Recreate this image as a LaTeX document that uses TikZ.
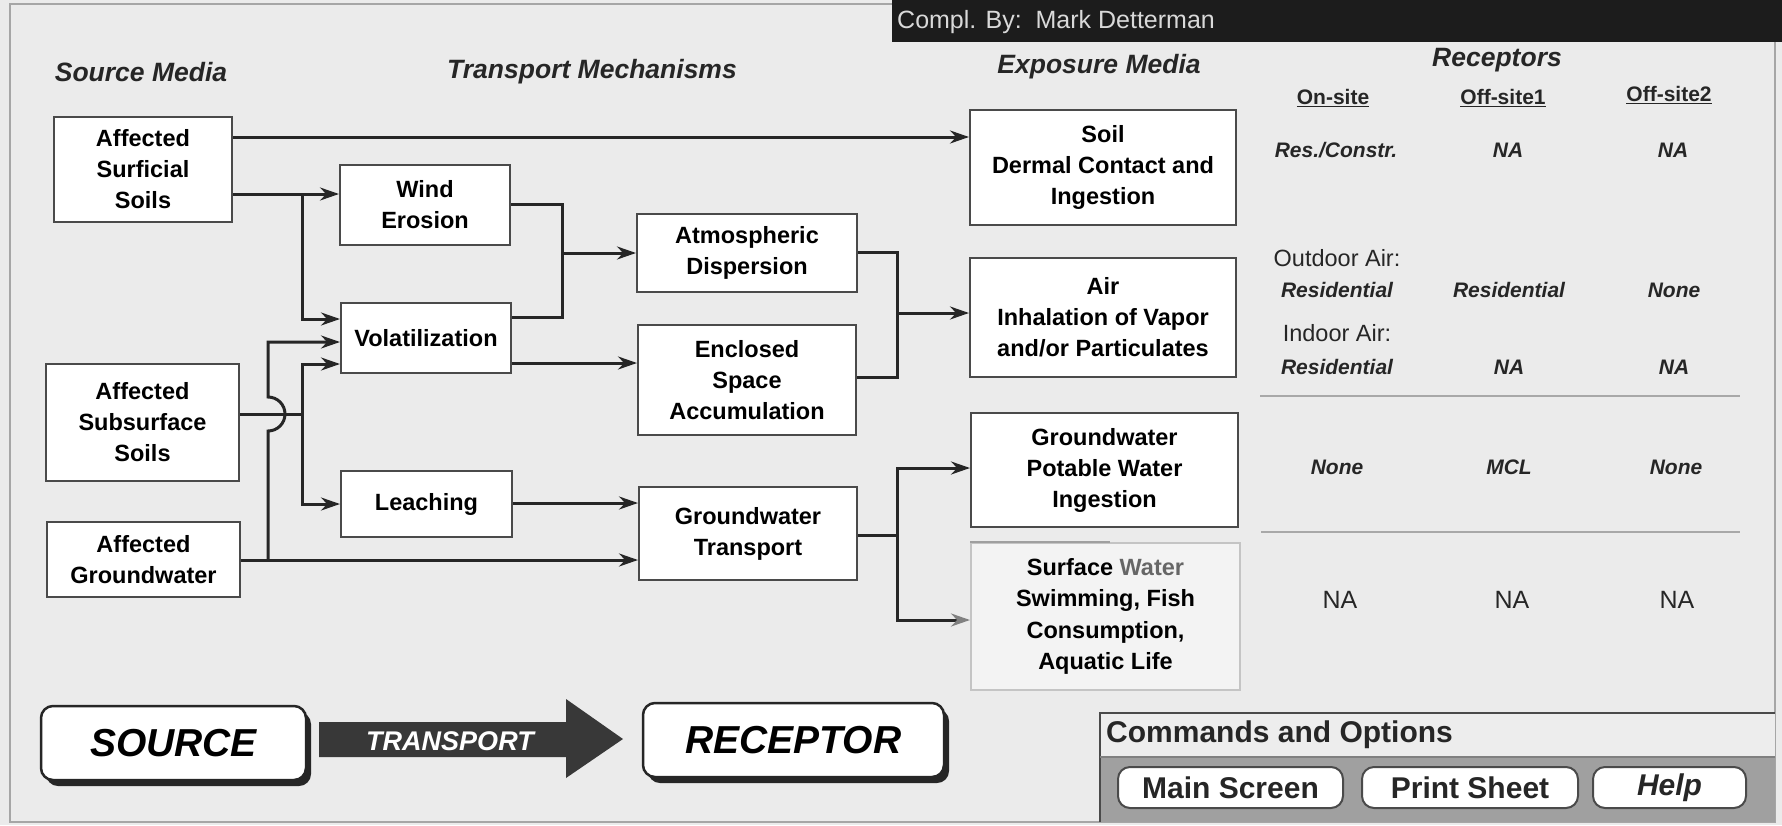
\documentclass[tikz,border=0pt]{standalone}
\usepackage{fontspec}
\setmainfont{Liberation Sans}
\usetikzlibrary{arrows.meta,calc}
\definecolor{bgc}{HTML}{EBEBEB}
\definecolor{ink}{HTML}{262626}
\definecolor{boxline}{HTML}{4A4A4A}
\definecolor{barc}{HTML}{1C1C1C}
\definecolor{panelc}{HTML}{A0A0A0}
\definecolor{sepc}{HTML}{A8A8A8}
\definecolor{faint}{HTML}{C4C4C4}
\newcommand{\fsz}[2]{\fontsize{#1pt}{#2pt}\selectfont}
\begin{document}
\begin{tikzpicture}[x=1pt,y=-1pt,
  box/.style={draw=boxline,line width=2pt,fill=white,inner sep=0pt,align=center,font=\fsz{23.5}{31}\bfseries},
  conn/.style={draw=ink,line width=3pt},
  arr/.style={conn,-{Stealth[length=19pt,width=13pt]}},
  title/.style={font=\fsz{26.5}{30}\bfseries\itshape,inner sep=0pt,text=ink},
  head/.style={font=\fsz{21}{25}\bfseries,inner sep=0pt,text=ink},
  cell/.style={font=\fsz{21}{25}\bfseries\itshape,inner sep=0pt,text=ink},
  plain/.style={font=\fsz{23.5}{28},inner sep=0pt,text=ink},
  sep/.style={draw=sepc,line width=2.5pt},
  bigbox/.style={draw=ink,line width=2.5pt,fill=white,rounded corners=12pt,inner sep=0pt,font=\fsz{39}{44}\bfseries\itshape},
  shadowbox/.style={fill=ink,rounded corners=12pt},
  btn/.style={draw=boxline,line width=2pt,fill=white,rounded corners=12pt,inner sep=0pt,font=\fsz{30}{34}\bfseries,text=ink}
]
\useasboundingbox (0,0) rectangle (1782,825);
\fill[bgc] (0,0) rectangle (1782,825);
\draw[gray!70,line width=1.5pt] (10,4) rectangle (1775,822);

% header bar
\fill[barc] (892,0) rectangle (1782,42);
\node[anchor=west,inner sep=0pt,font=\fsz{25}{28},text=white!85!black] (compl) at (897,22) {Compl. By:\ \ Mark Detterman};

% titles
\node[title] (tsrc) at (141,72) {Source Media};
\node[title] (ttr) at (592,72) {Transport Mechanisms};
\node[title] (texp) at (1099,67) {Exposure Media};
\node[title] (trec) at (1497,60) {Receptors};

% boxes
\node[box,minimum width=178,minimum height=105] (surf) at (143,169.5) {Affected\\Surficial\\Soils};
\node[box,minimum width=193,minimum height=117] (subs) at (142.5,422.5) {Affected\\Subsurface\\Soils};
\node[box,minimum width=193,minimum height=75] (gw) at (143.5,559.5) {Affected\\Groundwater};
\node[box,minimum width=170,minimum height=80] (wind) at (425,205) {Wind\\Erosion};
\node[box,minimum width=170,minimum height=70] (vol) at (426,338) {Volatilization};
\node[box,minimum width=171,minimum height=66] (leach) at (426.5,504) {Leaching};
\node[box,minimum width=220,minimum height=78] (atm) at (747,253) {Atmospheric\\Dispersion};
\node[box,minimum width=218,minimum height=110] (encl) at (747,380) {Enclosed\\Space\\Accumulation};
\node[box,minimum width=218,minimum height=93] (gwt) at (748,533.5) {Groundwater\\Transport};
\node[box,minimum width=266,minimum height=115] (soil) at (1103,167.5) {Soil\\Dermal Contact and\\Ingestion};
\node[box,minimum width=266,minimum height=119] (air) at (1103,317.5) {Air\\Inhalation of Vapor\\and/or Particulates};
\node[box,minimum width=267,minimum height=114] (pot) at (1104.5,470) {Groundwater\\Potable Water\\Ingestion};
\node[box,draw=faint,fill=bgc!60!white,minimum width=269,minimum height=147,font=\fsz{23.5}{31.5}\bfseries] (surfw) at (1105.5,616.5) {Surface {\color{black!60}Water}\\Swimming, Fish\\Consumption,\\Aquatic Life};
\draw[gray!75,line width=2pt] (surfw.north west) -- ++(140,0);

% junction coordinates
\coordinate (ja) at (302,194);
\coordinate (jb) at (268,560);
\coordinate (jc) at (302,414);
\coordinate (jd) at (562,253);
\coordinate (je) at (897,313);
\coordinate (jf) at (897,535);

% connectors
\draw[arr] (surf.east|-0,137) -- (soil.west|-0,137);
\draw[arr] (surf.east|-0,194) -- (wind.west|-0,194);
\draw[arr] (ja) -- (302,319) -- (vol.west|-0,319);
\draw[arr] (gw.east|-0,560) -- (gwt.west|-0,560);
\draw[arr] (jb) -- (268,431) arc[start angle=-90,end angle=90,radius=17pt] -- (268,342) -- (vol.west|-0,342);
\draw[conn] (subs.east|-0,414) -- (jc);
\draw[arr] (jc) -- (302,364) -- (vol.west|-0,364);
\draw[arr] (jc) -- (302,504) -- (leach.west|-0,504);
\draw[conn] (wind.east|-0,204) -- (562,204) -- (562,317) -- (vol.east|-0,317);
\draw[arr] (jd) -- (atm.west|-0,253);
\draw[arr] (vol.east|-0,363) -- (encl.west|-0,363);
\draw[arr] (leach.east|-0,503) -- (gwt.west|-0,503);
\draw[conn] (atm.east|-0,252) -- (897,252) -- (897,377) -- (encl.east|-0,377);
\draw[arr] (je) -- (air.west|-0,313);
\draw[conn] (gwt.east|-0,535) -- (jf);
\draw[arr] (jf) -- (897,468) -- (pot.west|-0,468);
\draw[conn,-{Stealth[length=19pt,width=13pt,color=gray]}] (jf) -- (897,620) -- (surfw.west|-0,620);

% receptor table
\node[head] (on) at (1333,98) {\underline{On-site}};
\node[head] (off1) at (1503,98) {\underline{Off-site1}};
\node[head] (off2) at (1669,95) {\underline{Off-site2}};
\node[cell] (r1a) at (1336,150) {Res./Constr.};
\node[cell] (r1b) at (1508,150) {NA};
\node[cell] (r1c) at (1673,150) {NA};
\node[plain] (outd) at (1337,258) {Outdoor Air:};
\node[cell] (r2a) at (1337,290) {Residential};
\node[cell] (r2b) at (1509,290) {Residential};
\node[cell] (r2c) at (1674,290) {None};
\node[plain] (ind) at (1337,333) {Indoor Air:};
\node[cell] (r3a) at (1337,367) {Residential};
\node[cell] (r3b) at (1509,367) {NA};
\node[cell] (r3c) at (1674,367) {NA};
\draw[sep] (1260,396) -- (1740,396);
\node[cell] (r4a) at (1337,467) {None};
\node[cell] (r4b) at (1509,467) {MCL};
\node[cell] (r4c) at (1676,467) {None};
\draw[sep] (1261,532) -- (1740,532);
\node[plain,font=\fsz{25}{28}] (r5a) at (1340,600) {NA};
\node[plain,font=\fsz{25}{28}] (r5b) at (1512,600) {NA};
\node[plain,font=\fsz{25}{28}] (r5c) at (1677,600) {NA};

% bottom legend
\fill[shadowbox] (46,712) rectangle (311,786);
\node[bigbox,minimum width=265,minimum height=74] (src) at (173.5,743) {SOURCE};
\fill[shadowbox] (648,709) rectangle (949,783);
\node[bigbox,minimum width=301,minimum height=74] (rec) at (793.5,740) {RECEPTOR};
\fill[black!78] (319,722) -- (566,722) -- (566,699) -- (623,739) -- (566,778) -- (566,757) -- (319,757) -- cycle;
\node[inner sep=0pt,font=\fsz{27}{30}\bfseries\itshape,text=white] (trn) at (450,741) {TRANSPORT};

% commands panel
\fill[panelc] (1100,757) rectangle (1775,822);
\fill[white!93!black] (1100,713) rectangle (1775,757);
\draw[boxline,line width=2pt] (1100,822) -- (1100,713) -- (1775,713);
\draw[gray,line width=1.5pt] (1100,757) -- (1775,757);
\node[anchor=west,inner sep=0pt,font=\fsz{30}{34}\bfseries,text=ink] (cmd) at (1106,735) {Commands and Options};
\node[btn,minimum width=225,minimum height=41] (bmain) at (1230.5,787.5) {Main Screen};
\node[btn,minimum width=216,minimum height=41] (bprint) at (1470,787.5) {Print Sheet};
\node[btn,minimum width=153,minimum height=41,font=\fsz{30}{34}\bfseries\itshape] (bhelp) at (1669.5,787.5) {Help};
\end{tikzpicture}
\end{document}
